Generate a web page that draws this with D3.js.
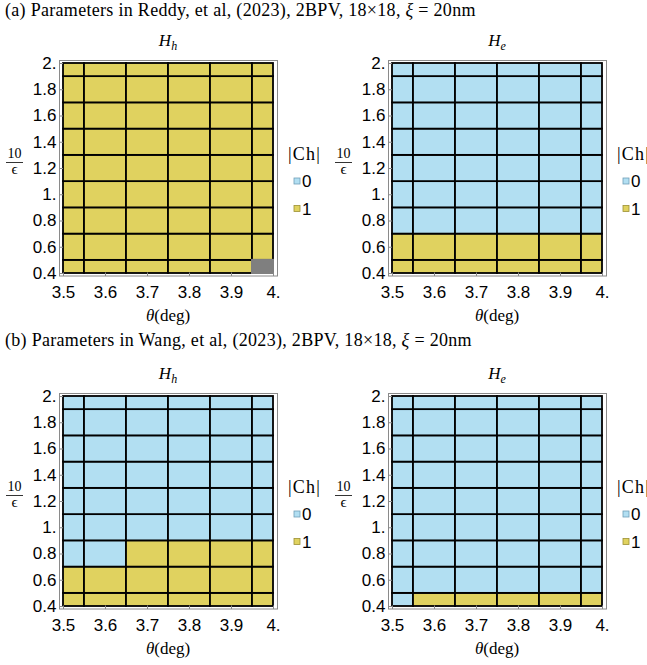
<!DOCTYPE html>
<html lang="en">
<head>
<meta charset="UTF-8">
<title>Chern number maps</title>
<script src="https://cdnjs.cloudflare.com/ajax/libs/d3/7.8.5/d3.min.js"></script>
<style>
  body{ margin:0; background:#fff; }
  svg{ display:block; }
  .serif{ font-family:"Liberation Serif", "Times New Roman", serif; }
  .tick-label{ font-family:"Liberation Sans", Arial, sans-serif; font-size:17px; fill:#000; }
</style>
</head>
<body>
<svg id="chart" width="647" height="665"></svg>
<script>
// grid values
const thetas = [3.5, 3.6, 3.7, 3.8, 3.9, 4.0];
const invEps = [0.4, 0.6, 0.8, 1.0, 1.2, 1.4, 1.6, 1.8, 2.0];
const xTickLabels = ["3.5", "3.6", "3.7", "3.8", "3.9", "4."];
const yTickLabels = ["0.4", "0.6", "0.8", "1.", "1.2", "1.4", "1.6", "1.8", "2."];
const legendValues = [0, 1];
const sectionTitles = [
  "(a) Parameters in Reddy, et al, (2023), 2BPV, 18\u00d718, ",
  "(b) Parameters in Wang, et al, (2023), 2BPV, 18\u00d718, "
];

// |Ch| per row (row 0 = 10/eps 0.4), one entry per theta; null = not computed
const chernReddyHh = [
  [1, 1, 1, 1, 1, null],
  [1, 1, 1, 1, 1, 1],
  [1, 1, 1, 1, 1, 1],
  [1, 1, 1, 1, 1, 1],
  [1, 1, 1, 1, 1, 1],
  [1, 1, 1, 1, 1, 1],
  [1, 1, 1, 1, 1, 1],
  [1, 1, 1, 1, 1, 1],
  [1, 1, 1, 1, 1, 1]
];
const chernReddyHe = [
  [1, 1, 1, 1, 1, 1],
  [1, 1, 1, 1, 1, 1],
  [0, 0, 0, 0, 0, 0],
  [0, 0, 0, 0, 0, 0],
  [0, 0, 0, 0, 0, 0],
  [0, 0, 0, 0, 0, 0],
  [0, 0, 0, 0, 0, 0],
  [0, 0, 0, 0, 0, 0],
  [0, 0, 0, 0, 0, 0]
];
const chernWangHh = [
  [1, 1, 1, 1, 1, 1],
  [1, 1, 1, 1, 1, 1],
  [0, 0, 1, 1, 1, 1],
  [0, 0, 0, 0, 0, 0],
  [0, 0, 0, 0, 0, 0],
  [0, 0, 0, 0, 0, 0],
  [0, 0, 0, 0, 0, 0],
  [0, 0, 0, 0, 0, 0],
  [0, 0, 0, 0, 0, 0]
];
const chernWangHe = [
  [0, 1, 1, 1, 1, 1],
  [0, 0, 0, 0, 0, 0],
  [0, 0, 0, 0, 0, 0],
  [0, 0, 0, 0, 0, 0],
  [0, 0, 0, 0, 0, 0],
  [0, 0, 0, 0, 0, 0],
  [0, 0, 0, 0, 0, 0],
  [0, 0, 0, 0, 0, 0],
  [0, 0, 0, 0, 0, 0]
];

const svg = d3.select("#chart");
const color = d3.scaleOrdinal().domain(legendValues).range(["#b2dff2", "#e0d25f"]);
const swatchStroke = d3.scaleOrdinal().domain(legendValues).range(["#6f9fb8", "#9c9034"]);
const missingColor = "#7f7f7f";

const x = d3.scaleLinear().domain([3.5, 4.0]).range([63, 273]);
const y = d3.scaleLinear().domain([0.4, 2.0]).range([273, 63]);
const dx = 0.05, dy = 0.1;

function cells(matrix){
  const out = [];
  matrix.forEach((row, j) => row.forEach((v, i) => {
    const t = thetas[i], e = invEps[j];
    out.push({
      v: v,
      x0: x(Math.max(3.5, t - dx)), x1: x(Math.min(4.0, t + dx)),
      y0: y(Math.min(2.0, e + dy)), y1: y(Math.max(0.4, e - dy))
    });
  }));
  return out;
}

function drawPanel(ox, oy, matrix, sub){
  const g = svg.append("g").attr("transform", `translate(${ox},${oy})`);

  // frame
  g.append("rect")
    .attr("x", 59.5).attr("y", 60.5)
    .attr("width", 218).attr("height", 215.5)
    .attr("fill", "none").attr("stroke", "#8a8a8a").attr("stroke-width", 1);

  const cs = cells(matrix);
  g.append("g").selectAll("rect")
    .data(cs.filter(c => c.v !== null))
    .join("rect")
    .attr("x", c => c.x0).attr("y", c => c.y0)
    .attr("width", c => c.x1 - c.x0).attr("height", c => c.y1 - c.y0)
    .attr("fill", c => color(c.v))
    .attr("stroke", "#000").attr("stroke-width", 1.8);

  g.append("g").selectAll("rect")
    .data(cs.filter(c => c.v === null))
    .join("rect")
    .attr("x", c => c.x0 - 1).attr("y", c => c.y0 - 1)
    .attr("width", c => c.x1 - c.x0 + 2).attr("height", c => c.y1 - c.y0 + 2)
    .attr("fill", missingColor);

  // ticks (inward on left and bottom frame)
  const yAxis = d3.axisLeft(y).tickValues(invEps).tickSize(-3.5).tickSizeOuter(0)
    .tickFormat((d, i) => yTickLabels[i]).tickPadding(3);
  const ya = g.append("g").attr("transform", "translate(59.5,0)").call(yAxis);
  ya.select(".domain").remove();
  ya.selectAll("line").attr("stroke", "#8a8a8a");
  ya.selectAll("text").attr("class", "tick-label").attr("font-size", null).attr("font-family", null);

  const xAxis = d3.axisBottom(x).tickValues(thetas).tickSize(-3.5).tickSizeOuter(0)
    .tickFormat((d, i) => xTickLabels[i]).tickPadding(10);
  const xa = g.append("g").attr("transform", "translate(0,276)").call(xAxis);
  xa.select(".domain").remove();
  xa.selectAll("line").attr("stroke", "#8a8a8a");
  xa.selectAll("text").attr("class", "tick-label").attr("font-size", null).attr("font-family", null);

  // panel title H_sub
  const tt = g.append("text").attr("class", "serif")
    .attr("x", 168).attr("y", 46).attr("text-anchor", "middle")
    .attr("font-size", 17).attr("font-style", "italic");
  tt.append("tspan").text("H");
  tt.append("tspan").attr("dy", 3.5).attr("font-size", 12).text(sub);

  // x label
  const xl = g.append("text").attr("class", "serif")
    .attr("x", 168).attr("y", 321).attr("text-anchor", "middle").attr("font-size", 17);
  xl.append("tspan").attr("font-style", "italic").text("\u03b8");
  xl.append("tspan").text("(deg)");

  // y label 10/eps
  g.append("text").attr("class", "serif").attr("x", 14.5).attr("y", 158)
    .attr("text-anchor", "middle").attr("font-size", 14).text("10");
  g.append("line").attr("x1", 6).attr("x2", 23).attr("y1", 162.5).attr("y2", 162.5)
    .attr("stroke", "#000").attr("stroke-width", 0.8);
  g.append("text").attr("class", "serif").attr("x", 14.5).attr("y", 174)
    .attr("text-anchor", "middle").attr("font-size", 15).text("\u03f5");

  // legend
  g.append("text").attr("class", "serif").attr("x", 288).attr("y", 160)
    .attr("font-size", 18).attr("letter-spacing", 1.2).text("|Ch|");
  const lg = g.append("g").selectAll("g").data(legendValues).join("g")
    .attr("transform", (d, i) => `translate(294,${178 + i * 27.5})`);
  lg.append("rect").attr("width", 6).attr("height", 6)
    .attr("fill", d => color(d)).attr("stroke", d => swatchStroke(d)).attr("stroke-width", 0.8);
  lg.append("text").attr("class", "tick-label").attr("x", 8).attr("y", 9)
    .attr("font-size", 16).text(d => d);
}

// section titles
sectionTitles.forEach((s, k) => {
  const t = svg.append("text").attr("class", "serif")
    .attr("x", 5).attr("y", 16 + k * 330).attr("font-size", 18).attr("letter-spacing", 0.3);
  t.append("tspan").text(s);
  t.append("tspan").attr("font-style", "italic").text("\u03be");
  t.append("tspan").text(" = 20nm");
});

drawPanel(0, 0, chernReddyHh, "h");
drawPanel(329, 0, chernReddyHe, "e");
drawPanel(0, 333, chernWangHh, "h");
drawPanel(329, 333, chernWangHe, "e");
</script>
</body>
</html>
